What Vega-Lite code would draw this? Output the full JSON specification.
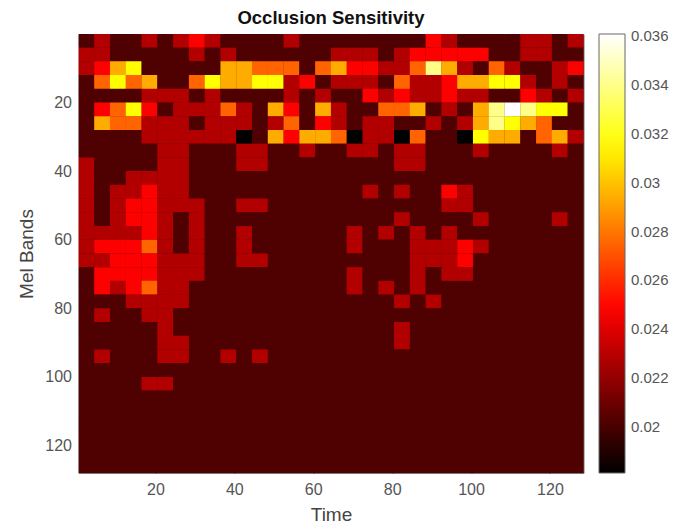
{"$schema":"https://vega.github.io/schema/vega-lite/v6.json","autosize":{"type":"none"},"padding":{"left":78.5,"top":34,"right":103.5,"bottom":52},"width":505,"height":439,"background":"white","title":{"text":"Occlusion Sensitivity","font":"Liberation Sans","fontSize":18.5,"fontWeight":"bold","color":"#111111","offset":7},"config":{"view":{"stroke":"#777777","fill":"#500000"}},"data":{"values":[
{"t":2.5,"m":2,"v":0.0202},{"t":6.5,"m":2,"v":0.0228},{"t":10.5,"m":2,"v":0.0202},{"t":14.5,"m":2,"v":0.0202},{"t":18.5,"m":2,"v":0.0228},{"t":22.5,"m":2,"v":0.0202},{"t":26.5,"m":2,"v":0.0228},{"t":30.5,"m":2,"v":0.0248},{"t":34.5,"m":2,"v":0.0228},{"t":38.5,"m":2,"v":0.0202},{"t":42.5,"m":2,"v":0.0202},{"t":46.5,"m":2,"v":0.0202},{"t":50.5,"m":2,"v":0.0202},{"t":54.5,"m":2,"v":0.0228},{"t":58.5,"m":2,"v":0.0202},{"t":62.5,"m":2,"v":0.0202},{"t":66.5,"m":2,"v":0.0202},{"t":70.5,"m":2,"v":0.0202},{"t":74.5,"m":2,"v":0.0202},{"t":78.5,"m":2,"v":0.0202},{"t":82.5,"m":2,"v":0.0202},{"t":86.5,"m":2,"v":0.0202},{"t":90.5,"m":2,"v":0.0248},{"t":94.5,"m":2,"v":0.0228},{"t":98.5,"m":2,"v":0.0202},{"t":102.5,"m":2,"v":0.0202},{"t":106.5,"m":2,"v":0.0202},{"t":110.5,"m":2,"v":0.0202},{"t":114.5,"m":2,"v":0.0228},{"t":118.5,"m":2,"v":0.0228},{"t":122.5,"m":2,"v":0.0202},{"t":126.5,"m":2,"v":0.0228},
{"t":2.5,"m":6,"v":0.0228},{"t":6.5,"m":6,"v":0.0228},{"t":10.5,"m":6,"v":0.0202},{"t":14.5,"m":6,"v":0.0202},{"t":18.5,"m":6,"v":0.0202},{"t":22.5,"m":6,"v":0.0202},{"t":26.5,"m":6,"v":0.0202},{"t":30.5,"m":6,"v":0.0228},{"t":34.5,"m":6,"v":0.0202},{"t":38.5,"m":6,"v":0.0228},{"t":42.5,"m":6,"v":0.0202},{"t":46.5,"m":6,"v":0.0202},{"t":50.5,"m":6,"v":0.0202},{"t":54.5,"m":6,"v":0.0202},{"t":58.5,"m":6,"v":0.0202},{"t":62.5,"m":6,"v":0.0202},{"t":66.5,"m":6,"v":0.0228},{"t":70.5,"m":6,"v":0.0228},{"t":74.5,"m":6,"v":0.0228},{"t":78.5,"m":6,"v":0.0202},{"t":82.5,"m":6,"v":0.0228},{"t":86.5,"m":6,"v":0.0248},{"t":90.5,"m":6,"v":0.0248},{"t":94.5,"m":6,"v":0.0248},{"t":98.5,"m":6,"v":0.0248},{"t":102.5,"m":6,"v":0.0248},{"t":106.5,"m":6,"v":0.0202},{"t":110.5,"m":6,"v":0.0202},{"t":114.5,"m":6,"v":0.0228},{"t":118.5,"m":6,"v":0.0228},{"t":122.5,"m":6,"v":0.0202},{"t":126.5,"m":6,"v":0.0202},
{"t":2.5,"m":10,"v":0.0228},{"t":6.5,"m":10,"v":0.0248},{"t":10.5,"m":10,"v":0.0294},{"t":14.5,"m":10,"v":0.0316},{"t":18.5,"m":10,"v":0.0202},{"t":22.5,"m":10,"v":0.0202},{"t":26.5,"m":10,"v":0.0202},{"t":30.5,"m":10,"v":0.0202},{"t":34.5,"m":10,"v":0.0202},{"t":38.5,"m":10,"v":0.0294},{"t":42.5,"m":10,"v":0.0294},{"t":46.5,"m":10,"v":0.0275},{"t":50.5,"m":10,"v":0.0275},{"t":54.5,"m":10,"v":0.0275},{"t":58.5,"m":10,"v":0.0202},{"t":62.5,"m":10,"v":0.0275},{"t":66.5,"m":10,"v":0.0294},{"t":70.5,"m":10,"v":0.0248},{"t":74.5,"m":10,"v":0.0248},{"t":78.5,"m":10,"v":0.0228},{"t":82.5,"m":10,"v":0.0228},{"t":86.5,"m":10,"v":0.0275},{"t":90.5,"m":10,"v":0.034},{"t":94.5,"m":10,"v":0.0294},{"t":98.5,"m":10,"v":0.0228},{"t":102.5,"m":10,"v":0.0202},{"t":106.5,"m":10,"v":0.0275},{"t":110.5,"m":10,"v":0.0228},{"t":114.5,"m":10,"v":0.0202},{"t":118.5,"m":10,"v":0.0202},{"t":122.5,"m":10,"v":0.0228},{"t":126.5,"m":10,"v":0.0248},
{"t":2.5,"m":14,"v":0.0202},{"t":6.5,"m":14,"v":0.0275},{"t":10.5,"m":14,"v":0.0316},{"t":14.5,"m":14,"v":0.0275},{"t":18.5,"m":14,"v":0.0294},{"t":22.5,"m":14,"v":0.0202},{"t":26.5,"m":14,"v":0.0202},{"t":30.5,"m":14,"v":0.0275},{"t":34.5,"m":14,"v":0.0316},{"t":38.5,"m":14,"v":0.0294},{"t":42.5,"m":14,"v":0.0294},{"t":46.5,"m":14,"v":0.0316},{"t":50.5,"m":14,"v":0.0316},{"t":54.5,"m":14,"v":0.0228},{"t":58.5,"m":14,"v":0.0248},{"t":62.5,"m":14,"v":0.0202},{"t":66.5,"m":14,"v":0.0228},{"t":70.5,"m":14,"v":0.0228},{"t":74.5,"m":14,"v":0.0228},{"t":78.5,"m":14,"v":0.0202},{"t":82.5,"m":14,"v":0.0275},{"t":86.5,"m":14,"v":0.0228},{"t":90.5,"m":14,"v":0.0228},{"t":94.5,"m":14,"v":0.0248},{"t":98.5,"m":14,"v":0.0294},{"t":102.5,"m":14,"v":0.0294},{"t":106.5,"m":14,"v":0.0316},{"t":110.5,"m":14,"v":0.0316},{"t":114.5,"m":14,"v":0.0228},{"t":118.5,"m":14,"v":0.0202},{"t":122.5,"m":14,"v":0.0228},{"t":126.5,"m":14,"v":0.0202},
{"t":2.5,"m":18,"v":0.0202},{"t":6.5,"m":18,"v":0.0202},{"t":10.5,"m":18,"v":0.0202},{"t":14.5,"m":18,"v":0.0202},{"t":18.5,"m":18,"v":0.0228},{"t":22.5,"m":18,"v":0.0228},{"t":26.5,"m":18,"v":0.0228},{"t":30.5,"m":18,"v":0.0202},{"t":34.5,"m":18,"v":0.0228},{"t":38.5,"m":18,"v":0.0202},{"t":42.5,"m":18,"v":0.0202},{"t":46.5,"m":18,"v":0.0202},{"t":50.5,"m":18,"v":0.0202},{"t":54.5,"m":18,"v":0.0228},{"t":58.5,"m":18,"v":0.0202},{"t":62.5,"m":18,"v":0.0228},{"t":66.5,"m":18,"v":0.0202},{"t":70.5,"m":18,"v":0.0202},{"t":74.5,"m":18,"v":0.0248},{"t":78.5,"m":18,"v":0.0228},{"t":82.5,"m":18,"v":0.0248},{"t":86.5,"m":18,"v":0.0228},{"t":90.5,"m":18,"v":0.0228},{"t":94.5,"m":18,"v":0.0248},{"t":98.5,"m":18,"v":0.0228},{"t":102.5,"m":18,"v":0.0228},{"t":106.5,"m":18,"v":0.0202},{"t":110.5,"m":18,"v":0.0202},{"t":114.5,"m":18,"v":0.0248},{"t":118.5,"m":18,"v":0.0228},{"t":122.5,"m":18,"v":0.0202},{"t":126.5,"m":18,"v":0.0228},
{"t":2.5,"m":22,"v":0.0202},{"t":6.5,"m":22,"v":0.0248},{"t":10.5,"m":22,"v":0.0275},{"t":14.5,"m":22,"v":0.0316},{"t":18.5,"m":22,"v":0.0248},{"t":22.5,"m":22,"v":0.0202},{"t":26.5,"m":22,"v":0.0228},{"t":30.5,"m":22,"v":0.0228},{"t":34.5,"m":22,"v":0.0228},{"t":38.5,"m":22,"v":0.0275},{"t":42.5,"m":22,"v":0.0228},{"t":46.5,"m":22,"v":0.0202},{"t":50.5,"m":22,"v":0.0294},{"t":54.5,"m":22,"v":0.0248},{"t":58.5,"m":22,"v":0.0202},{"t":62.5,"m":22,"v":0.0294},{"t":66.5,"m":22,"v":0.0228},{"t":70.5,"m":22,"v":0.0202},{"t":74.5,"m":22,"v":0.0202},{"t":78.5,"m":22,"v":0.0275},{"t":82.5,"m":22,"v":0.0275},{"t":86.5,"m":22,"v":0.0294},{"t":90.5,"m":22,"v":0.0202},{"t":94.5,"m":22,"v":0.0228},{"t":98.5,"m":22,"v":0.0202},{"t":102.5,"m":22,"v":0.0294},{"t":106.5,"m":22,"v":0.034},{"t":110.5,"m":22,"v":0.0361},{"t":114.5,"m":22,"v":0.034},{"t":118.5,"m":22,"v":0.0316},{"t":122.5,"m":22,"v":0.0316},{"t":126.5,"m":22,"v":0.0202},
{"t":2.5,"m":26,"v":0.0202},{"t":6.5,"m":26,"v":0.0294},{"t":10.5,"m":26,"v":0.0275},{"t":14.5,"m":26,"v":0.0275},{"t":18.5,"m":26,"v":0.0228},{"t":22.5,"m":26,"v":0.0228},{"t":26.5,"m":26,"v":0.0228},{"t":30.5,"m":26,"v":0.0202},{"t":34.5,"m":26,"v":0.0228},{"t":38.5,"m":26,"v":0.0228},{"t":42.5,"m":26,"v":0.0228},{"t":46.5,"m":26,"v":0.0202},{"t":50.5,"m":26,"v":0.0228},{"t":54.5,"m":26,"v":0.0275},{"t":58.5,"m":26,"v":0.0202},{"t":62.5,"m":26,"v":0.0248},{"t":66.5,"m":26,"v":0.0228},{"t":70.5,"m":26,"v":0.0202},{"t":74.5,"m":26,"v":0.0228},{"t":78.5,"m":26,"v":0.0228},{"t":82.5,"m":26,"v":0.0202},{"t":86.5,"m":26,"v":0.0202},{"t":90.5,"m":26,"v":0.0228},{"t":94.5,"m":26,"v":0.0202},{"t":98.5,"m":26,"v":0.0228},{"t":102.5,"m":26,"v":0.0294},{"t":106.5,"m":26,"v":0.034},{"t":110.5,"m":26,"v":0.0316},{"t":114.5,"m":26,"v":0.0294},{"t":118.5,"m":26,"v":0.0275},{"t":122.5,"m":26,"v":0.0202},{"t":126.5,"m":26,"v":0.0202},
{"t":2.5,"m":30,"v":0.0202},{"t":6.5,"m":30,"v":0.0202},{"t":10.5,"m":30,"v":0.0202},{"t":14.5,"m":30,"v":0.0202},{"t":18.5,"m":30,"v":0.0228},{"t":22.5,"m":30,"v":0.0228},{"t":26.5,"m":30,"v":0.0228},{"t":30.5,"m":30,"v":0.0228},{"t":34.5,"m":30,"v":0.0228},{"t":38.5,"m":30,"v":0.0228},{"t":42.5,"m":30,"v":0.0181},{"t":46.5,"m":30,"v":0.0202},{"t":50.5,"m":30,"v":0.0294},{"t":54.5,"m":30,"v":0.0248},{"t":58.5,"m":30,"v":0.0294},{"t":62.5,"m":30,"v":0.0294},{"t":66.5,"m":30,"v":0.0275},{"t":70.5,"m":30,"v":0.0181},{"t":74.5,"m":30,"v":0.0228},{"t":78.5,"m":30,"v":0.0228},{"t":82.5,"m":30,"v":0.0181},{"t":86.5,"m":30,"v":0.0275},{"t":90.5,"m":30,"v":0.0202},{"t":94.5,"m":30,"v":0.0202},{"t":98.5,"m":30,"v":0.0181},{"t":102.5,"m":30,"v":0.0316},{"t":106.5,"m":30,"v":0.0294},{"t":110.5,"m":30,"v":0.0294},{"t":114.5,"m":30,"v":0.0202},{"t":118.5,"m":30,"v":0.0275},{"t":122.5,"m":30,"v":0.0294},{"t":126.5,"m":30,"v":0.0228},
{"t":2.5,"m":34,"v":0.0202},{"t":6.5,"m":34,"v":0.0202},{"t":10.5,"m":34,"v":0.0202},{"t":14.5,"m":34,"v":0.0202},{"t":18.5,"m":34,"v":0.0202},{"t":22.5,"m":34,"v":0.0228},{"t":26.5,"m":34,"v":0.0228},{"t":30.5,"m":34,"v":0.0202},{"t":34.5,"m":34,"v":0.0202},{"t":38.5,"m":34,"v":0.0202},{"t":42.5,"m":34,"v":0.0228},{"t":46.5,"m":34,"v":0.0228},{"t":50.5,"m":34,"v":0.0202},{"t":54.5,"m":34,"v":0.0202},{"t":58.5,"m":34,"v":0.0228},{"t":62.5,"m":34,"v":0.0202},{"t":66.5,"m":34,"v":0.0202},{"t":70.5,"m":34,"v":0.0228},{"t":74.5,"m":34,"v":0.0228},{"t":78.5,"m":34,"v":0.0202},{"t":82.5,"m":34,"v":0.0228},{"t":86.5,"m":34,"v":0.0228},{"t":90.5,"m":34,"v":0.0202},{"t":94.5,"m":34,"v":0.0202},{"t":98.5,"m":34,"v":0.0202},{"t":102.5,"m":34,"v":0.0228},{"t":106.5,"m":34,"v":0.0202},{"t":110.5,"m":34,"v":0.0202},{"t":114.5,"m":34,"v":0.0202},{"t":118.5,"m":34,"v":0.0202},{"t":122.5,"m":34,"v":0.0228},{"t":126.5,"m":34,"v":0.0202},
{"t":2.5,"m":38,"v":0.0228},{"t":6.5,"m":38,"v":0.0202},{"t":10.5,"m":38,"v":0.0202},{"t":14.5,"m":38,"v":0.0202},{"t":18.5,"m":38,"v":0.0202},{"t":22.5,"m":38,"v":0.0228},{"t":26.5,"m":38,"v":0.0228},{"t":30.5,"m":38,"v":0.0202},{"t":34.5,"m":38,"v":0.0202},{"t":38.5,"m":38,"v":0.0202},{"t":42.5,"m":38,"v":0.0228},{"t":46.5,"m":38,"v":0.0228},{"t":50.5,"m":38,"v":0.0202},{"t":54.5,"m":38,"v":0.0202},{"t":58.5,"m":38,"v":0.0202},{"t":62.5,"m":38,"v":0.0202},{"t":66.5,"m":38,"v":0.0202},{"t":70.5,"m":38,"v":0.0202},{"t":74.5,"m":38,"v":0.0202},{"t":78.5,"m":38,"v":0.0202},{"t":82.5,"m":38,"v":0.0228},{"t":86.5,"m":38,"v":0.0228},{"t":90.5,"m":38,"v":0.0202},{"t":94.5,"m":38,"v":0.0202},{"t":98.5,"m":38,"v":0.0202},{"t":102.5,"m":38,"v":0.0202},{"t":106.5,"m":38,"v":0.0202},{"t":110.5,"m":38,"v":0.0202},{"t":114.5,"m":38,"v":0.0202},{"t":118.5,"m":38,"v":0.0202},{"t":122.5,"m":38,"v":0.0202},{"t":126.5,"m":38,"v":0.0202},
{"t":2.5,"m":42,"v":0.0228},{"t":6.5,"m":42,"v":0.0202},{"t":10.5,"m":42,"v":0.0202},{"t":14.5,"m":42,"v":0.0228},{"t":18.5,"m":42,"v":0.0228},{"t":22.5,"m":42,"v":0.0228},{"t":26.5,"m":42,"v":0.0228},{"t":30.5,"m":42,"v":0.0202},{"t":34.5,"m":42,"v":0.0202},{"t":38.5,"m":42,"v":0.0202},{"t":42.5,"m":42,"v":0.0202},{"t":46.5,"m":42,"v":0.0202},{"t":50.5,"m":42,"v":0.0202},{"t":54.5,"m":42,"v":0.0202},{"t":58.5,"m":42,"v":0.0202},{"t":62.5,"m":42,"v":0.0202},{"t":66.5,"m":42,"v":0.0202},{"t":70.5,"m":42,"v":0.0202},{"t":74.5,"m":42,"v":0.0202},{"t":78.5,"m":42,"v":0.0202},{"t":82.5,"m":42,"v":0.0202},{"t":86.5,"m":42,"v":0.0202},{"t":90.5,"m":42,"v":0.0202},{"t":94.5,"m":42,"v":0.0202},{"t":98.5,"m":42,"v":0.0202},{"t":102.5,"m":42,"v":0.0202},{"t":106.5,"m":42,"v":0.0202},{"t":110.5,"m":42,"v":0.0202},{"t":114.5,"m":42,"v":0.0202},{"t":118.5,"m":42,"v":0.0202},{"t":122.5,"m":42,"v":0.0202},{"t":126.5,"m":42,"v":0.0202},
{"t":2.5,"m":46,"v":0.0228},{"t":6.5,"m":46,"v":0.0202},{"t":10.5,"m":46,"v":0.0228},{"t":14.5,"m":46,"v":0.0228},{"t":18.5,"m":46,"v":0.0248},{"t":22.5,"m":46,"v":0.0228},{"t":26.5,"m":46,"v":0.0228},{"t":30.5,"m":46,"v":0.0202},{"t":34.5,"m":46,"v":0.0202},{"t":38.5,"m":46,"v":0.0202},{"t":42.5,"m":46,"v":0.0202},{"t":46.5,"m":46,"v":0.0202},{"t":50.5,"m":46,"v":0.0202},{"t":54.5,"m":46,"v":0.0202},{"t":58.5,"m":46,"v":0.0202},{"t":62.5,"m":46,"v":0.0202},{"t":66.5,"m":46,"v":0.0202},{"t":70.5,"m":46,"v":0.0202},{"t":74.5,"m":46,"v":0.0228},{"t":78.5,"m":46,"v":0.0202},{"t":82.5,"m":46,"v":0.0228},{"t":86.5,"m":46,"v":0.0202},{"t":90.5,"m":46,"v":0.0202},{"t":94.5,"m":46,"v":0.0248},{"t":98.5,"m":46,"v":0.0228},{"t":102.5,"m":46,"v":0.0202},{"t":106.5,"m":46,"v":0.0202},{"t":110.5,"m":46,"v":0.0202},{"t":114.5,"m":46,"v":0.0202},{"t":118.5,"m":46,"v":0.0202},{"t":122.5,"m":46,"v":0.0202},{"t":126.5,"m":46,"v":0.0202},
{"t":2.5,"m":50,"v":0.0228},{"t":6.5,"m":50,"v":0.0202},{"t":10.5,"m":50,"v":0.0228},{"t":14.5,"m":50,"v":0.0248},{"t":18.5,"m":50,"v":0.0248},{"t":22.5,"m":50,"v":0.0228},{"t":26.5,"m":50,"v":0.0228},{"t":30.5,"m":50,"v":0.0228},{"t":34.5,"m":50,"v":0.0202},{"t":38.5,"m":50,"v":0.0202},{"t":42.5,"m":50,"v":0.0228},{"t":46.5,"m":50,"v":0.0228},{"t":50.5,"m":50,"v":0.0202},{"t":54.5,"m":50,"v":0.0202},{"t":58.5,"m":50,"v":0.0202},{"t":62.5,"m":50,"v":0.0202},{"t":66.5,"m":50,"v":0.0202},{"t":70.5,"m":50,"v":0.0202},{"t":74.5,"m":50,"v":0.0202},{"t":78.5,"m":50,"v":0.0202},{"t":82.5,"m":50,"v":0.0202},{"t":86.5,"m":50,"v":0.0202},{"t":90.5,"m":50,"v":0.0202},{"t":94.5,"m":50,"v":0.0228},{"t":98.5,"m":50,"v":0.0228},{"t":102.5,"m":50,"v":0.0202},{"t":106.5,"m":50,"v":0.0202},{"t":110.5,"m":50,"v":0.0202},{"t":114.5,"m":50,"v":0.0202},{"t":118.5,"m":50,"v":0.0202},{"t":122.5,"m":50,"v":0.0202},{"t":126.5,"m":50,"v":0.0202},
{"t":2.5,"m":54,"v":0.0228},{"t":6.5,"m":54,"v":0.0202},{"t":10.5,"m":54,"v":0.0228},{"t":14.5,"m":54,"v":0.0248},{"t":18.5,"m":54,"v":0.0248},{"t":22.5,"m":54,"v":0.0228},{"t":26.5,"m":54,"v":0.0202},{"t":30.5,"m":54,"v":0.0228},{"t":34.5,"m":54,"v":0.0202},{"t":38.5,"m":54,"v":0.0202},{"t":42.5,"m":54,"v":0.0202},{"t":46.5,"m":54,"v":0.0202},{"t":50.5,"m":54,"v":0.0202},{"t":54.5,"m":54,"v":0.0202},{"t":58.5,"m":54,"v":0.0202},{"t":62.5,"m":54,"v":0.0202},{"t":66.5,"m":54,"v":0.0202},{"t":70.5,"m":54,"v":0.0202},{"t":74.5,"m":54,"v":0.0202},{"t":78.5,"m":54,"v":0.0202},{"t":82.5,"m":54,"v":0.0228},{"t":86.5,"m":54,"v":0.0202},{"t":90.5,"m":54,"v":0.0202},{"t":94.5,"m":54,"v":0.0202},{"t":98.5,"m":54,"v":0.0202},{"t":102.5,"m":54,"v":0.0228},{"t":106.5,"m":54,"v":0.0202},{"t":110.5,"m":54,"v":0.0202},{"t":114.5,"m":54,"v":0.0202},{"t":118.5,"m":54,"v":0.0202},{"t":122.5,"m":54,"v":0.0228},{"t":126.5,"m":54,"v":0.0202},
{"t":2.5,"m":58,"v":0.0228},{"t":6.5,"m":58,"v":0.0228},{"t":10.5,"m":58,"v":0.0228},{"t":14.5,"m":58,"v":0.0228},{"t":18.5,"m":58,"v":0.0248},{"t":22.5,"m":58,"v":0.0228},{"t":26.5,"m":58,"v":0.0202},{"t":30.5,"m":58,"v":0.0228},{"t":34.5,"m":58,"v":0.0202},{"t":38.5,"m":58,"v":0.0202},{"t":42.5,"m":58,"v":0.0228},{"t":46.5,"m":58,"v":0.0202},{"t":50.5,"m":58,"v":0.0202},{"t":54.5,"m":58,"v":0.0202},{"t":58.5,"m":58,"v":0.0202},{"t":62.5,"m":58,"v":0.0202},{"t":66.5,"m":58,"v":0.0202},{"t":70.5,"m":58,"v":0.0228},{"t":74.5,"m":58,"v":0.0202},{"t":78.5,"m":58,"v":0.0228},{"t":82.5,"m":58,"v":0.0202},{"t":86.5,"m":58,"v":0.0228},{"t":90.5,"m":58,"v":0.0202},{"t":94.5,"m":58,"v":0.0228},{"t":98.5,"m":58,"v":0.0202},{"t":102.5,"m":58,"v":0.0202},{"t":106.5,"m":58,"v":0.0202},{"t":110.5,"m":58,"v":0.0202},{"t":114.5,"m":58,"v":0.0202},{"t":118.5,"m":58,"v":0.0202},{"t":122.5,"m":58,"v":0.0202},{"t":126.5,"m":58,"v":0.0202},
{"t":2.5,"m":62,"v":0.0228},{"t":6.5,"m":62,"v":0.0248},{"t":10.5,"m":62,"v":0.0248},{"t":14.5,"m":62,"v":0.0248},{"t":18.5,"m":62,"v":0.0275},{"t":22.5,"m":62,"v":0.0228},{"t":26.5,"m":62,"v":0.0202},{"t":30.5,"m":62,"v":0.0228},{"t":34.5,"m":62,"v":0.0202},{"t":38.5,"m":62,"v":0.0202},{"t":42.5,"m":62,"v":0.0228},{"t":46.5,"m":62,"v":0.0202},{"t":50.5,"m":62,"v":0.0202},{"t":54.5,"m":62,"v":0.0202},{"t":58.5,"m":62,"v":0.0202},{"t":62.5,"m":62,"v":0.0202},{"t":66.5,"m":62,"v":0.0202},{"t":70.5,"m":62,"v":0.0228},{"t":74.5,"m":62,"v":0.0202},{"t":78.5,"m":62,"v":0.0202},{"t":82.5,"m":62,"v":0.0202},{"t":86.5,"m":62,"v":0.0228},{"t":90.5,"m":62,"v":0.0228},{"t":94.5,"m":62,"v":0.0228},{"t":98.5,"m":62,"v":0.0248},{"t":102.5,"m":62,"v":0.0228},{"t":106.5,"m":62,"v":0.0202},{"t":110.5,"m":62,"v":0.0202},{"t":114.5,"m":62,"v":0.0202},{"t":118.5,"m":62,"v":0.0202},{"t":122.5,"m":62,"v":0.0202},{"t":126.5,"m":62,"v":0.0202},
{"t":2.5,"m":66,"v":0.0228},{"t":6.5,"m":66,"v":0.0228},{"t":10.5,"m":66,"v":0.0248},{"t":14.5,"m":66,"v":0.0248},{"t":18.5,"m":66,"v":0.0248},{"t":22.5,"m":66,"v":0.0228},{"t":26.5,"m":66,"v":0.0228},{"t":30.5,"m":66,"v":0.0228},{"t":34.5,"m":66,"v":0.0202},{"t":38.5,"m":66,"v":0.0202},{"t":42.5,"m":66,"v":0.0228},{"t":46.5,"m":66,"v":0.0228},{"t":50.5,"m":66,"v":0.0202},{"t":54.5,"m":66,"v":0.0202},{"t":58.5,"m":66,"v":0.0202},{"t":62.5,"m":66,"v":0.0202},{"t":66.5,"m":66,"v":0.0202},{"t":70.5,"m":66,"v":0.0202},{"t":74.5,"m":66,"v":0.0202},{"t":78.5,"m":66,"v":0.0202},{"t":82.5,"m":66,"v":0.0202},{"t":86.5,"m":66,"v":0.0228},{"t":90.5,"m":66,"v":0.0228},{"t":94.5,"m":66,"v":0.0228},{"t":98.5,"m":66,"v":0.0248},{"t":102.5,"m":66,"v":0.0202},{"t":106.5,"m":66,"v":0.0202},{"t":110.5,"m":66,"v":0.0202},{"t":114.5,"m":66,"v":0.0202},{"t":118.5,"m":66,"v":0.0202},{"t":122.5,"m":66,"v":0.0202},{"t":126.5,"m":66,"v":0.0202},
{"t":2.5,"m":70,"v":0.0202},{"t":6.5,"m":70,"v":0.0248},{"t":10.5,"m":70,"v":0.0248},{"t":14.5,"m":70,"v":0.0248},{"t":18.5,"m":70,"v":0.0248},{"t":22.5,"m":70,"v":0.0228},{"t":26.5,"m":70,"v":0.0228},{"t":30.5,"m":70,"v":0.0228},{"t":34.5,"m":70,"v":0.0202},{"t":38.5,"m":70,"v":0.0202},{"t":42.5,"m":70,"v":0.0202},{"t":46.5,"m":70,"v":0.0202},{"t":50.5,"m":70,"v":0.0202},{"t":54.5,"m":70,"v":0.0202},{"t":58.5,"m":70,"v":0.0202},{"t":62.5,"m":70,"v":0.0202},{"t":66.5,"m":70,"v":0.0202},{"t":70.5,"m":70,"v":0.0228},{"t":74.5,"m":70,"v":0.0202},{"t":78.5,"m":70,"v":0.0202},{"t":82.5,"m":70,"v":0.0202},{"t":86.5,"m":70,"v":0.0228},{"t":90.5,"m":70,"v":0.0202},{"t":94.5,"m":70,"v":0.0228},{"t":98.5,"m":70,"v":0.0228},{"t":102.5,"m":70,"v":0.0202},{"t":106.5,"m":70,"v":0.0202},{"t":110.5,"m":70,"v":0.0202},{"t":114.5,"m":70,"v":0.0202},{"t":118.5,"m":70,"v":0.0202},{"t":122.5,"m":70,"v":0.0202},{"t":126.5,"m":70,"v":0.0202},
{"t":2.5,"m":74,"v":0.0202},{"t":6.5,"m":74,"v":0.0248},{"t":10.5,"m":74,"v":0.0228},{"t":14.5,"m":74,"v":0.0248},{"t":18.5,"m":74,"v":0.0275},{"t":22.5,"m":74,"v":0.0228},{"t":26.5,"m":74,"v":0.0228},{"t":30.5,"m":74,"v":0.0202},{"t":34.5,"m":74,"v":0.0202},{"t":38.5,"m":74,"v":0.0202},{"t":42.5,"m":74,"v":0.0202},{"t":46.5,"m":74,"v":0.0202},{"t":50.5,"m":74,"v":0.0202},{"t":54.5,"m":74,"v":0.0202},{"t":58.5,"m":74,"v":0.0202},{"t":62.5,"m":74,"v":0.0202},{"t":66.5,"m":74,"v":0.0202},{"t":70.5,"m":74,"v":0.0228},{"t":74.5,"m":74,"v":0.0202},{"t":78.5,"m":74,"v":0.0228},{"t":82.5,"m":74,"v":0.0202},{"t":86.5,"m":74,"v":0.0228},{"t":90.5,"m":74,"v":0.0202},{"t":94.5,"m":74,"v":0.0202},{"t":98.5,"m":74,"v":0.0202},{"t":102.5,"m":74,"v":0.0202},{"t":106.5,"m":74,"v":0.0202},{"t":110.5,"m":74,"v":0.0202},{"t":114.5,"m":74,"v":0.0202},{"t":118.5,"m":74,"v":0.0202},{"t":122.5,"m":74,"v":0.0202},{"t":126.5,"m":74,"v":0.0202},
{"t":2.5,"m":78,"v":0.0202},{"t":6.5,"m":78,"v":0.0202},{"t":10.5,"m":78,"v":0.0202},{"t":14.5,"m":78,"v":0.0228},{"t":18.5,"m":78,"v":0.0228},{"t":22.5,"m":78,"v":0.0228},{"t":26.5,"m":78,"v":0.0228},{"t":30.5,"m":78,"v":0.0202},{"t":34.5,"m":78,"v":0.0202},{"t":38.5,"m":78,"v":0.0202},{"t":42.5,"m":78,"v":0.0202},{"t":46.5,"m":78,"v":0.0202},{"t":50.5,"m":78,"v":0.0202},{"t":54.5,"m":78,"v":0.0202},{"t":58.5,"m":78,"v":0.0202},{"t":62.5,"m":78,"v":0.0202},{"t":66.5,"m":78,"v":0.0202},{"t":70.5,"m":78,"v":0.0202},{"t":74.5,"m":78,"v":0.0202},{"t":78.5,"m":78,"v":0.0202},{"t":82.5,"m":78,"v":0.0228},{"t":86.5,"m":78,"v":0.0202},{"t":90.5,"m":78,"v":0.0228},{"t":94.5,"m":78,"v":0.0202},{"t":98.5,"m":78,"v":0.0202},{"t":102.5,"m":78,"v":0.0202},{"t":106.5,"m":78,"v":0.0202},{"t":110.5,"m":78,"v":0.0202},{"t":114.5,"m":78,"v":0.0202},{"t":118.5,"m":78,"v":0.0202},{"t":122.5,"m":78,"v":0.0202},{"t":126.5,"m":78,"v":0.0202},
{"t":2.5,"m":82,"v":0.0202},{"t":6.5,"m":82,"v":0.0228},{"t":10.5,"m":82,"v":0.0202},{"t":14.5,"m":82,"v":0.0202},{"t":18.5,"m":82,"v":0.0228},{"t":22.5,"m":82,"v":0.0228},{"t":26.5,"m":82,"v":0.0202},{"t":30.5,"m":82,"v":0.0202},{"t":34.5,"m":82,"v":0.0202},{"t":38.5,"m":82,"v":0.0202},{"t":42.5,"m":82,"v":0.0202},{"t":46.5,"m":82,"v":0.0202},{"t":50.5,"m":82,"v":0.0202},{"t":54.5,"m":82,"v":0.0202},{"t":58.5,"m":82,"v":0.0202},{"t":62.5,"m":82,"v":0.0202},{"t":66.5,"m":82,"v":0.0202},{"t":70.5,"m":82,"v":0.0202},{"t":74.5,"m":82,"v":0.0202},{"t":78.5,"m":82,"v":0.0202},{"t":82.5,"m":82,"v":0.0202},{"t":86.5,"m":82,"v":0.0202},{"t":90.5,"m":82,"v":0.0202},{"t":94.5,"m":82,"v":0.0202},{"t":98.5,"m":82,"v":0.0202},{"t":102.5,"m":82,"v":0.0202},{"t":106.5,"m":82,"v":0.0202},{"t":110.5,"m":82,"v":0.0202},{"t":114.5,"m":82,"v":0.0202},{"t":118.5,"m":82,"v":0.0202},{"t":122.5,"m":82,"v":0.0202},{"t":126.5,"m":82,"v":0.0202},
{"t":2.5,"m":86,"v":0.0202},{"t":6.5,"m":86,"v":0.0202},{"t":10.5,"m":86,"v":0.0202},{"t":14.5,"m":86,"v":0.0202},{"t":18.5,"m":86,"v":0.0202},{"t":22.5,"m":86,"v":0.0228},{"t":26.5,"m":86,"v":0.0202},{"t":30.5,"m":86,"v":0.0202},{"t":34.5,"m":86,"v":0.0202},{"t":38.5,"m":86,"v":0.0202},{"t":42.5,"m":86,"v":0.0202},{"t":46.5,"m":86,"v":0.0202},{"t":50.5,"m":86,"v":0.0202},{"t":54.5,"m":86,"v":0.0202},{"t":58.5,"m":86,"v":0.0202},{"t":62.5,"m":86,"v":0.0202},{"t":66.5,"m":86,"v":0.0202},{"t":70.5,"m":86,"v":0.0202},{"t":74.5,"m":86,"v":0.0202},{"t":78.5,"m":86,"v":0.0202},{"t":82.5,"m":86,"v":0.0228},{"t":86.5,"m":86,"v":0.0202},{"t":90.5,"m":86,"v":0.0202},{"t":94.5,"m":86,"v":0.0202},{"t":98.5,"m":86,"v":0.0202},{"t":102.5,"m":86,"v":0.0202},{"t":106.5,"m":86,"v":0.0202},{"t":110.5,"m":86,"v":0.0202},{"t":114.5,"m":86,"v":0.0202},{"t":118.5,"m":86,"v":0.0202},{"t":122.5,"m":86,"v":0.0202},{"t":126.5,"m":86,"v":0.0202},
{"t":2.5,"m":90,"v":0.0202},{"t":6.5,"m":90,"v":0.0202},{"t":10.5,"m":90,"v":0.0202},{"t":14.5,"m":90,"v":0.0202},{"t":18.5,"m":90,"v":0.0202},{"t":22.5,"m":90,"v":0.0228},{"t":26.5,"m":90,"v":0.0228},{"t":30.5,"m":90,"v":0.0202},{"t":34.5,"m":90,"v":0.0202},{"t":38.5,"m":90,"v":0.0202},{"t":42.5,"m":90,"v":0.0202},{"t":46.5,"m":90,"v":0.0202},{"t":50.5,"m":90,"v":0.0202},{"t":54.5,"m":90,"v":0.0202},{"t":58.5,"m":90,"v":0.0202},{"t":62.5,"m":90,"v":0.0202},{"t":66.5,"m":90,"v":0.0202},{"t":70.5,"m":90,"v":0.0202},{"t":74.5,"m":90,"v":0.0202},{"t":78.5,"m":90,"v":0.0202},{"t":82.5,"m":90,"v":0.0228},{"t":86.5,"m":90,"v":0.0202},{"t":90.5,"m":90,"v":0.0202},{"t":94.5,"m":90,"v":0.0202},{"t":98.5,"m":90,"v":0.0202},{"t":102.5,"m":90,"v":0.0202},{"t":106.5,"m":90,"v":0.0202},{"t":110.5,"m":90,"v":0.0202},{"t":114.5,"m":90,"v":0.0202},{"t":118.5,"m":90,"v":0.0202},{"t":122.5,"m":90,"v":0.0202},{"t":126.5,"m":90,"v":0.0202},
{"t":2.5,"m":94,"v":0.0202},{"t":6.5,"m":94,"v":0.0228},{"t":10.5,"m":94,"v":0.0202},{"t":14.5,"m":94,"v":0.0202},{"t":18.5,"m":94,"v":0.0202},{"t":22.5,"m":94,"v":0.0228},{"t":26.5,"m":94,"v":0.0228},{"t":30.5,"m":94,"v":0.0202},{"t":34.5,"m":94,"v":0.0202},{"t":38.5,"m":94,"v":0.0228},{"t":42.5,"m":94,"v":0.0202},{"t":46.5,"m":94,"v":0.0228},{"t":50.5,"m":94,"v":0.0202},{"t":54.5,"m":94,"v":0.0202},{"t":58.5,"m":94,"v":0.0202},{"t":62.5,"m":94,"v":0.0202},{"t":66.5,"m":94,"v":0.0202},{"t":70.5,"m":94,"v":0.0202},{"t":74.5,"m":94,"v":0.0202},{"t":78.5,"m":94,"v":0.0202},{"t":82.5,"m":94,"v":0.0202},{"t":86.5,"m":94,"v":0.0202},{"t":90.5,"m":94,"v":0.0202},{"t":94.5,"m":94,"v":0.0202},{"t":98.5,"m":94,"v":0.0202},{"t":102.5,"m":94,"v":0.0202},{"t":106.5,"m":94,"v":0.0202},{"t":110.5,"m":94,"v":0.0202},{"t":114.5,"m":94,"v":0.0202},{"t":118.5,"m":94,"v":0.0202},{"t":122.5,"m":94,"v":0.0202},{"t":126.5,"m":94,"v":0.0202},
{"t":2.5,"m":98,"v":0.0202},{"t":6.5,"m":98,"v":0.0202},{"t":10.5,"m":98,"v":0.0202},{"t":14.5,"m":98,"v":0.0202},{"t":18.5,"m":98,"v":0.0202},{"t":22.5,"m":98,"v":0.0202},{"t":26.5,"m":98,"v":0.0202},{"t":30.5,"m":98,"v":0.0202},{"t":34.5,"m":98,"v":0.0202},{"t":38.5,"m":98,"v":0.0202},{"t":42.5,"m":98,"v":0.0202},{"t":46.5,"m":98,"v":0.0202},{"t":50.5,"m":98,"v":0.0202},{"t":54.5,"m":98,"v":0.0202},{"t":58.5,"m":98,"v":0.0202},{"t":62.5,"m":98,"v":0.0202},{"t":66.5,"m":98,"v":0.0202},{"t":70.5,"m":98,"v":0.0202},{"t":74.5,"m":98,"v":0.0202},{"t":78.5,"m":98,"v":0.0202},{"t":82.5,"m":98,"v":0.0202},{"t":86.5,"m":98,"v":0.0202},{"t":90.5,"m":98,"v":0.0202},{"t":94.5,"m":98,"v":0.0202},{"t":98.5,"m":98,"v":0.0202},{"t":102.5,"m":98,"v":0.0202},{"t":106.5,"m":98,"v":0.0202},{"t":110.5,"m":98,"v":0.0202},{"t":114.5,"m":98,"v":0.0202},{"t":118.5,"m":98,"v":0.0202},{"t":122.5,"m":98,"v":0.0202},{"t":126.5,"m":98,"v":0.0202},
{"t":2.5,"m":102,"v":0.0202},{"t":6.5,"m":102,"v":0.0202},{"t":10.5,"m":102,"v":0.0202},{"t":14.5,"m":102,"v":0.0202},{"t":18.5,"m":102,"v":0.0228},{"t":22.5,"m":102,"v":0.0228},{"t":26.5,"m":102,"v":0.0202},{"t":30.5,"m":102,"v":0.0202},{"t":34.5,"m":102,"v":0.0202},{"t":38.5,"m":102,"v":0.0202},{"t":42.5,"m":102,"v":0.0202},{"t":46.5,"m":102,"v":0.0202},{"t":50.5,"m":102,"v":0.0202},{"t":54.5,"m":102,"v":0.0202},{"t":58.5,"m":102,"v":0.0202},{"t":62.5,"m":102,"v":0.0202},{"t":66.5,"m":102,"v":0.0202},{"t":70.5,"m":102,"v":0.0202},{"t":74.5,"m":102,"v":0.0202},{"t":78.5,"m":102,"v":0.0202},{"t":82.5,"m":102,"v":0.0202},{"t":86.5,"m":102,"v":0.0202},{"t":90.5,"m":102,"v":0.0202},{"t":94.5,"m":102,"v":0.0202},{"t":98.5,"m":102,"v":0.0202},{"t":102.5,"m":102,"v":0.0202},{"t":106.5,"m":102,"v":0.0202},{"t":110.5,"m":102,"v":0.0202},{"t":114.5,"m":102,"v":0.0202},{"t":118.5,"m":102,"v":0.0202},{"t":122.5,"m":102,"v":0.0202},{"t":126.5,"m":102,"v":0.0202},
{"t":2.5,"m":106,"v":0.0202},{"t":6.5,"m":106,"v":0.0202},{"t":10.5,"m":106,"v":0.0202},{"t":14.5,"m":106,"v":0.0202},{"t":18.5,"m":106,"v":0.0202},{"t":22.5,"m":106,"v":0.0202},{"t":26.5,"m":106,"v":0.0202},{"t":30.5,"m":106,"v":0.0202},{"t":34.5,"m":106,"v":0.0202},{"t":38.5,"m":106,"v":0.0202},{"t":42.5,"m":106,"v":0.0202},{"t":46.5,"m":106,"v":0.0202},{"t":50.5,"m":106,"v":0.0202},{"t":54.5,"m":106,"v":0.0202},{"t":58.5,"m":106,"v":0.0202},{"t":62.5,"m":106,"v":0.0202},{"t":66.5,"m":106,"v":0.0202},{"t":70.5,"m":106,"v":0.0202},{"t":74.5,"m":106,"v":0.0202},{"t":78.5,"m":106,"v":0.0202},{"t":82.5,"m":106,"v":0.0202},{"t":86.5,"m":106,"v":0.0202},{"t":90.5,"m":106,"v":0.0202},{"t":94.5,"m":106,"v":0.0202},{"t":98.5,"m":106,"v":0.0202},{"t":102.5,"m":106,"v":0.0202},{"t":106.5,"m":106,"v":0.0202},{"t":110.5,"m":106,"v":0.0202},{"t":114.5,"m":106,"v":0.0202},{"t":118.5,"m":106,"v":0.0202},{"t":122.5,"m":106,"v":0.0202},{"t":126.5,"m":106,"v":0.0202},
{"t":2.5,"m":110,"v":0.0202},{"t":6.5,"m":110,"v":0.0202},{"t":10.5,"m":110,"v":0.0202},{"t":14.5,"m":110,"v":0.0202},{"t":18.5,"m":110,"v":0.0202},{"t":22.5,"m":110,"v":0.0202},{"t":26.5,"m":110,"v":0.0202},{"t":30.5,"m":110,"v":0.0202},{"t":34.5,"m":110,"v":0.0202},{"t":38.5,"m":110,"v":0.0202},{"t":42.5,"m":110,"v":0.0202},{"t":46.5,"m":110,"v":0.0202},{"t":50.5,"m":110,"v":0.0202},{"t":54.5,"m":110,"v":0.0202},{"t":58.5,"m":110,"v":0.0202},{"t":62.5,"m":110,"v":0.0202},{"t":66.5,"m":110,"v":0.0202},{"t":70.5,"m":110,"v":0.0202},{"t":74.5,"m":110,"v":0.0202},{"t":78.5,"m":110,"v":0.0202},{"t":82.5,"m":110,"v":0.0202},{"t":86.5,"m":110,"v":0.0202},{"t":90.5,"m":110,"v":0.0202},{"t":94.5,"m":110,"v":0.0202},{"t":98.5,"m":110,"v":0.0202},{"t":102.5,"m":110,"v":0.0202},{"t":106.5,"m":110,"v":0.0202},{"t":110.5,"m":110,"v":0.0202},{"t":114.5,"m":110,"v":0.0202},{"t":118.5,"m":110,"v":0.0202},{"t":122.5,"m":110,"v":0.0202},{"t":126.5,"m":110,"v":0.0202},
{"t":2.5,"m":114,"v":0.0202},{"t":6.5,"m":114,"v":0.0202},{"t":10.5,"m":114,"v":0.0202},{"t":14.5,"m":114,"v":0.0202},{"t":18.5,"m":114,"v":0.0202},{"t":22.5,"m":114,"v":0.0202},{"t":26.5,"m":114,"v":0.0202},{"t":30.5,"m":114,"v":0.0202},{"t":34.5,"m":114,"v":0.0202},{"t":38.5,"m":114,"v":0.0202},{"t":42.5,"m":114,"v":0.0202},{"t":46.5,"m":114,"v":0.0202},{"t":50.5,"m":114,"v":0.0202},{"t":54.5,"m":114,"v":0.0202},{"t":58.5,"m":114,"v":0.0202},{"t":62.5,"m":114,"v":0.0202},{"t":66.5,"m":114,"v":0.0202},{"t":70.5,"m":114,"v":0.0202},{"t":74.5,"m":114,"v":0.0202},{"t":78.5,"m":114,"v":0.0202},{"t":82.5,"m":114,"v":0.0202},{"t":86.5,"m":114,"v":0.0202},{"t":90.5,"m":114,"v":0.0202},{"t":94.5,"m":114,"v":0.0202},{"t":98.5,"m":114,"v":0.0202},{"t":102.5,"m":114,"v":0.0202},{"t":106.5,"m":114,"v":0.0202},{"t":110.5,"m":114,"v":0.0202},{"t":114.5,"m":114,"v":0.0202},{"t":118.5,"m":114,"v":0.0202},{"t":122.5,"m":114,"v":0.0202},{"t":126.5,"m":114,"v":0.0202},
{"t":2.5,"m":118,"v":0.0202},{"t":6.5,"m":118,"v":0.0202},{"t":10.5,"m":118,"v":0.0202},{"t":14.5,"m":118,"v":0.0202},{"t":18.5,"m":118,"v":0.0202},{"t":22.5,"m":118,"v":0.0202},{"t":26.5,"m":118,"v":0.0202},{"t":30.5,"m":118,"v":0.0202},{"t":34.5,"m":118,"v":0.0202},{"t":38.5,"m":118,"v":0.0202},{"t":42.5,"m":118,"v":0.0202},{"t":46.5,"m":118,"v":0.0202},{"t":50.5,"m":118,"v":0.0202},{"t":54.5,"m":118,"v":0.0202},{"t":58.5,"m":118,"v":0.0202},{"t":62.5,"m":118,"v":0.0202},{"t":66.5,"m":118,"v":0.0202},{"t":70.5,"m":118,"v":0.0202},{"t":74.5,"m":118,"v":0.0202},{"t":78.5,"m":118,"v":0.0202},{"t":82.5,"m":118,"v":0.0202},{"t":86.5,"m":118,"v":0.0202},{"t":90.5,"m":118,"v":0.0202},{"t":94.5,"m":118,"v":0.0202},{"t":98.5,"m":118,"v":0.0202},{"t":102.5,"m":118,"v":0.0202},{"t":106.5,"m":118,"v":0.0202},{"t":110.5,"m":118,"v":0.0202},{"t":114.5,"m":118,"v":0.0202},{"t":118.5,"m":118,"v":0.0202},{"t":122.5,"m":118,"v":0.0202},{"t":126.5,"m":118,"v":0.0202},
{"t":2.5,"m":122,"v":0.0202},{"t":6.5,"m":122,"v":0.0202},{"t":10.5,"m":122,"v":0.0202},{"t":14.5,"m":122,"v":0.0202},{"t":18.5,"m":122,"v":0.0202},{"t":22.5,"m":122,"v":0.0202},{"t":26.5,"m":122,"v":0.0202},{"t":30.5,"m":122,"v":0.0202},{"t":34.5,"m":122,"v":0.0202},{"t":38.5,"m":122,"v":0.0202},{"t":42.5,"m":122,"v":0.0202},{"t":46.5,"m":122,"v":0.0202},{"t":50.5,"m":122,"v":0.0202},{"t":54.5,"m":122,"v":0.0202},{"t":58.5,"m":122,"v":0.0202},{"t":62.5,"m":122,"v":0.0202},{"t":66.5,"m":122,"v":0.0202},{"t":70.5,"m":122,"v":0.0202},{"t":74.5,"m":122,"v":0.0202},{"t":78.5,"m":122,"v":0.0202},{"t":82.5,"m":122,"v":0.0202},{"t":86.5,"m":122,"v":0.0202},{"t":90.5,"m":122,"v":0.0202},{"t":94.5,"m":122,"v":0.0202},{"t":98.5,"m":122,"v":0.0202},{"t":102.5,"m":122,"v":0.0202},{"t":106.5,"m":122,"v":0.0202},{"t":110.5,"m":122,"v":0.0202},{"t":114.5,"m":122,"v":0.0202},{"t":118.5,"m":122,"v":0.0202},{"t":122.5,"m":122,"v":0.0202},{"t":126.5,"m":122,"v":0.0202},
{"t":2.5,"m":126,"v":0.0202},{"t":6.5,"m":126,"v":0.0202},{"t":10.5,"m":126,"v":0.0202},{"t":14.5,"m":126,"v":0.0202},{"t":18.5,"m":126,"v":0.0202},{"t":22.5,"m":126,"v":0.0202},{"t":26.5,"m":126,"v":0.0202},{"t":30.5,"m":126,"v":0.0202},{"t":34.5,"m":126,"v":0.0202},{"t":38.5,"m":126,"v":0.0202},{"t":42.5,"m":126,"v":0.0202},{"t":46.5,"m":126,"v":0.0202},{"t":50.5,"m":126,"v":0.0202},{"t":54.5,"m":126,"v":0.0202},{"t":58.5,"m":126,"v":0.0202},{"t":62.5,"m":126,"v":0.0202},{"t":66.5,"m":126,"v":0.0202},{"t":70.5,"m":126,"v":0.0202},{"t":74.5,"m":126,"v":0.0202},{"t":78.5,"m":126,"v":0.0202},{"t":82.5,"m":126,"v":0.0202},{"t":86.5,"m":126,"v":0.0202},{"t":90.5,"m":126,"v":0.0202},{"t":94.5,"m":126,"v":0.0202},{"t":98.5,"m":126,"v":0.0202},{"t":102.5,"m":126,"v":0.0202},{"t":106.5,"m":126,"v":0.0202},{"t":110.5,"m":126,"v":0.0202},{"t":114.5,"m":126,"v":0.0202},{"t":118.5,"m":126,"v":0.0202},{"t":122.5,"m":126,"v":0.0202},{"t":126.5,"m":126,"v":0.0202}
]},"mark":{"type":"rect","width":15.95,"height":13.9,"clip":true},"encoding":{"x":{"field":"t","type":"quantitative","scale":{"domain":[0.5,128.5],"nice":false,"zero":false},"axis":{"title":"Time","values":[20,40,60,80,100,120],"grid":false,"tickSize":-4,"tickColor":"#222222","domain":false,"labelPadding":12,"labelFont":"Liberation Sans","labelFontSize":16,"labelColor":"#555555","titleFont":"Liberation Sans","titleFontSize":19,"titleFontWeight":"normal","titleColor":"#444444","titlePadding":8}},"y":{"field":"m","type":"quantitative","scale":{"domain":[0,128],"reverse":true,"nice":false,"zero":false},"axis":{"title":"Mel Bands","values":[20,40,60,80,100,120],"grid":false,"tickSize":-4,"tickColor":"#222222","domain":false,"labelPadding":11,"labelFont":"Liberation Sans","labelFontSize":16,"labelColor":"#555555","titleFont":"Liberation Sans","titleFontSize":19,"titleFontWeight":"normal","titleColor":"#444444","titlePadding":8}},"color":{"field":"v","type":"quantitative","scale":{"type":"linear","domain":[0.0181,0.02485,0.0316,0.0361],"range":["#000000","#ff0000","#ffff00","#ffffff"],"interpolate":"rgb"},"legend":{"orient":"none","legendX":520.5,"legendY":0,"title":null,"type":"gradient","direction":"vertical","gradientLength":439,"gradientThickness":26,"gradientStrokeColor":"#666666","gradientStrokeWidth":1,"values":[0.02,0.022,0.024,0.026,0.028,0.03,0.032,0.034,0.036],"format":".3~f","labelFont":"Liberation Sans","labelFontSize":15,"labelColor":"#555555","labelOffset":6,"labelOverlap":false}}}}
